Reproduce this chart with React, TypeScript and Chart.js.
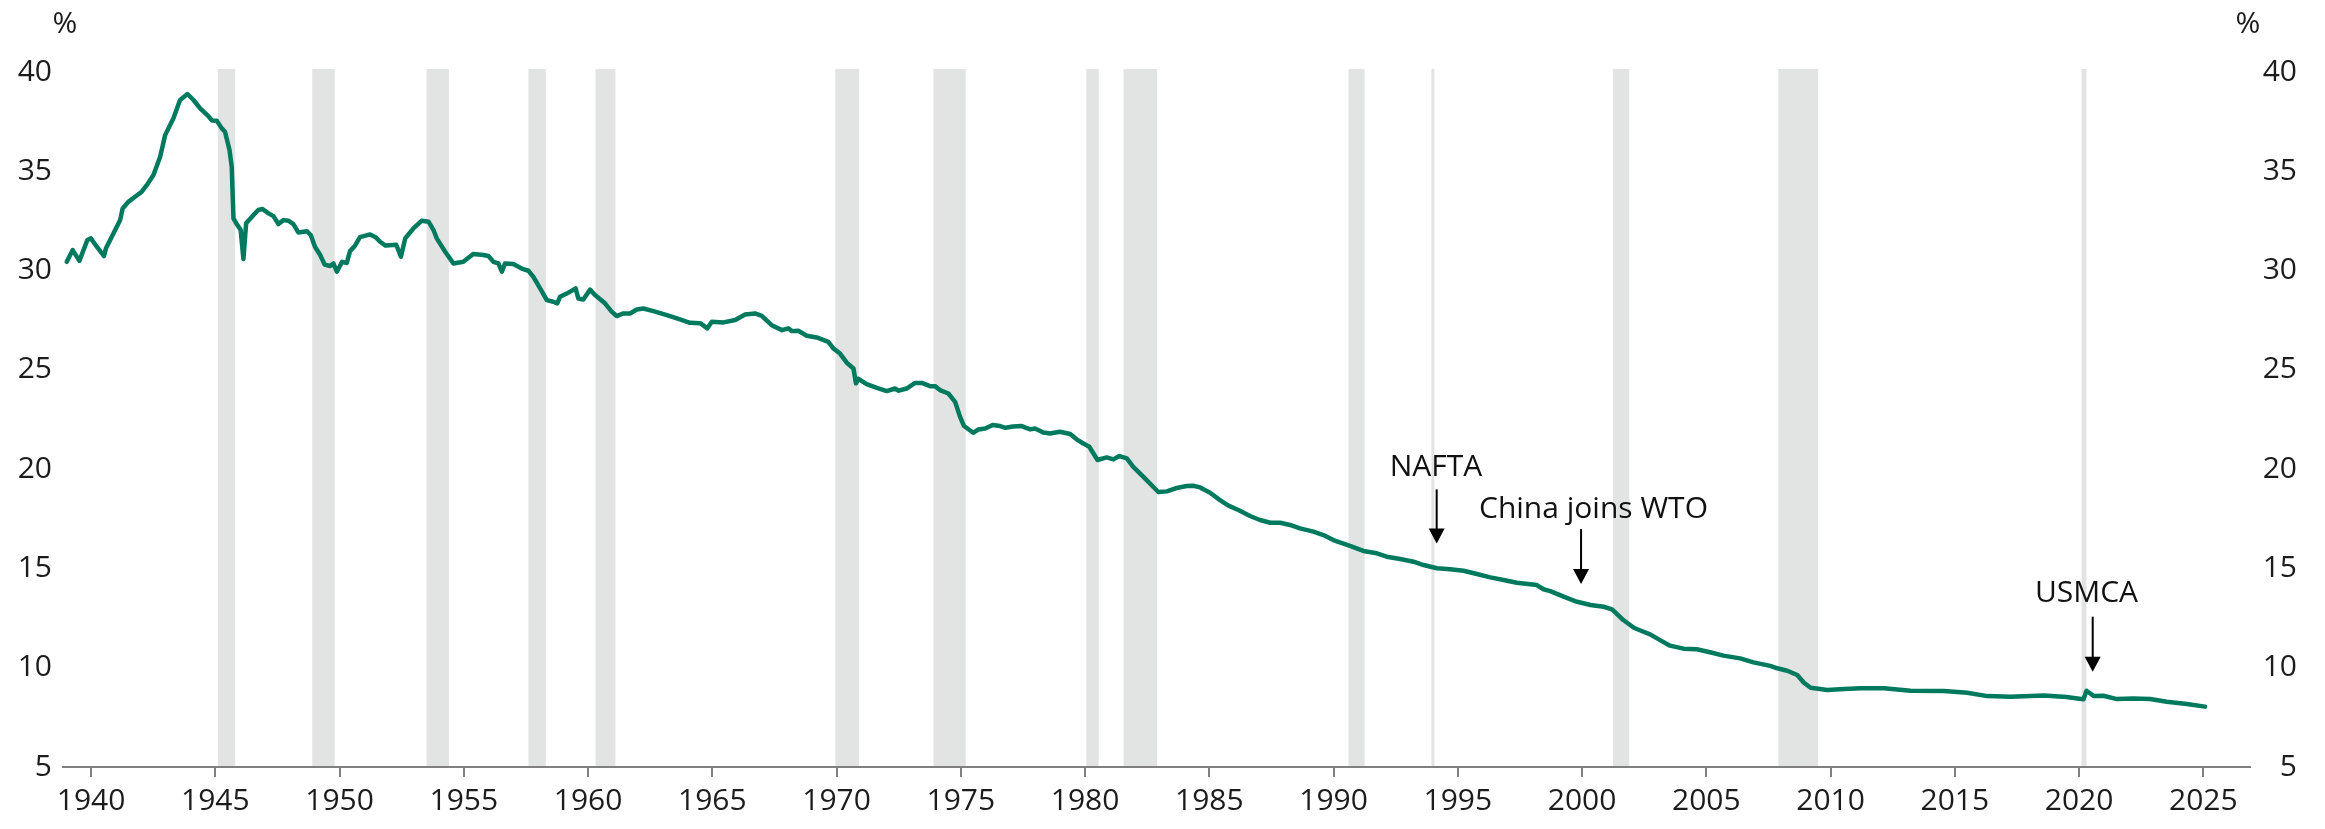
import React, { useEffect, useRef } from "react";
import { Chart, registerables } from "chart.js";

Chart.register(...registerables);

// Manufacturing share of nonfarm employment (%)
const years = [
  1939.02, 1939.26, 1939.53, 1939.85, 1939.99, 1940.23, 1940.52, 1940.6, 1940.97, 1941.17,
  1941.27, 1941.5, 1941.77, 1942.04, 1942.24, 1942.51, 1942.78, 1942.98, 1943.31, 1943.58,
  1943.88, 1944.12, 1944.39, 1944.72, 1944.86, 1945.06, 1945.26, 1945.39, 1945.57, 1945.66,
  1945.73, 1945.86, 1946.02, 1946.13, 1946.24, 1946.53, 1946.73, 1946.9, 1947.14, 1947.34,
  1947.54, 1947.74, 1947.94, 1948.14, 1948.34, 1948.68, 1948.84, 1949.01, 1949.22, 1949.4,
  1949.62, 1949.75, 1949.89, 1950.1, 1950.29, 1950.42, 1950.62, 1950.82, 1951.23, 1951.45,
  1951.63, 1951.85, 1952.28, 1952.47, 1952.64, 1952.97, 1953.31, 1953.58, 1953.78, 1953.91,
  1954.25, 1954.58, 1954.98, 1955.38, 1955.79, 1955.99, 1956.19, 1956.39, 1956.53, 1956.66,
  1956.99, 1957.33, 1957.6, 1957.8, 1958.07, 1958.34, 1958.6, 1958.76, 1958.87, 1959.14,
  1959.5, 1959.61, 1959.81, 1960.08, 1960.28, 1960.68, 1960.95, 1961.15, 1961.42, 1961.69,
  1961.96, 1962.23, 1962.63, 1963.17, 1963.7, 1964.1, 1964.51, 1964.8, 1964.98, 1965.45,
  1965.92, 1966.32, 1966.72, 1966.99, 1967.39, 1967.8, 1968.06, 1968.2, 1968.46, 1968.8,
  1969.2, 1969.54, 1969.67, 1969.87, 1970.14, 1970.41, 1970.68, 1970.78, 1970.88, 1971.21,
  1971.62, 1972.02, 1972.35, 1972.5, 1972.82, 1973.16, 1973.43, 1973.76, 1973.96, 1974.16,
  1974.5, 1974.77, 1974.97, 1975.13, 1975.5, 1975.71, 1975.98, 1976.28, 1976.58, 1976.8,
  1977.1, 1977.45, 1977.79, 1977.99, 1978.32, 1978.59, 1978.99, 1979.4, 1979.66, 1979.93,
  1980.17, 1980.5, 1980.87, 1981.14, 1981.38, 1981.68, 1981.94, 1982.35, 1982.75, 1982.95,
  1983.29, 1983.69, 1984.09, 1984.36, 1984.63, 1985.03, 1985.43, 1985.77, 1986.17, 1986.64,
  1987.04, 1987.45, 1987.85, 1988.25, 1988.65, 1989.19, 1989.59, 1989.99, 1990.66, 1991.2,
  1991.74, 1992.14, 1992.68, 1993.22, 1993.62, 1994.16, 1994.69, 1995.23, 1995.77, 1996.31,
  1996.84, 1997.38, 1998.18, 1998.45, 1998.72, 1999.26, 1999.8, 2000.34, 2000.87, 2001.21,
  2001.66, 2002.1, 2002.4, 2002.74, 2003.14, 2003.54, 2004.08, 2004.62, 2005.15, 2005.69,
  2006.36, 2006.9, 2007.57, 2007.86, 2008.26, 2008.66, 2008.93, 2009.2, 2009.87, 2010.54,
  2011.21, 2012.15, 2013.22, 2014.56, 2015.5, 2016.31, 2017.25, 2018.59, 2019.5, 2019.93,
  2020.18, 2020.3, 2020.6, 2020.98, 2021.52, 2022.19, 2022.86, 2023.53, 2024.34, 2025.07,
];

const shares = [
  30.44, 31.03, 30.49, 31.54, 31.62, 31.2, 30.73, 31.12, 32.04, 32.54,
  33.13, 33.46, 33.72, 33.97, 34.3, 34.81, 35.73, 36.82, 37.66, 38.59,
  38.89, 38.59, 38.17, 37.78, 37.56, 37.54, 37.16, 36.99, 36.07, 35.23,
  32.63, 32.34, 32.04, 30.58, 32.38, 32.79, 33.05, 33.1, 32.88, 32.74,
  32.34, 32.54, 32.51, 32.34, 31.92, 31.98, 31.79, 31.2, 30.78, 30.3,
  30.23, 30.36, 29.94, 30.44, 30.38, 30.98, 31.25, 31.68, 31.82, 31.68,
  31.45, 31.26, 31.3, 30.7, 31.62, 32.12, 32.51, 32.46, 32.04, 31.62,
  30.95, 30.36, 30.44, 30.83, 30.78, 30.73, 30.44, 30.36, 29.94, 30.36,
  30.33, 30.1, 29.99, 29.68, 29.1, 28.51, 28.43, 28.35, 28.68, 28.84,
  29.1, 28.59, 28.54, 29.04, 28.77, 28.35, 27.93, 27.71, 27.84, 27.84,
  28.04, 28.09, 27.96, 27.76, 27.54, 27.37, 27.35, 27.09, 27.42, 27.39,
  27.51, 27.79, 27.84, 27.72, 27.25, 27.0, 27.09, 26.95, 26.97, 26.72,
  26.63, 26.47, 26.41, 26.08, 25.82, 25.36, 25.07, 24.32, 24.55, 24.28,
  24.09, 23.93, 24.06, 23.95, 24.06, 24.34, 24.34, 24.18, 24.18, 23.98,
  23.81, 23.39, 22.63, 22.17, 21.83, 22.0, 22.05, 22.22, 22.17, 22.08,
  22.15, 22.17, 22.0, 22.05, 21.84, 21.79, 21.88, 21.77, 21.5, 21.29,
  21.13, 20.46, 20.59, 20.49, 20.66, 20.54, 20.11, 19.61, 19.1, 18.85,
  18.88, 19.05, 19.15, 19.16, 19.08, 18.81, 18.44, 18.16, 17.94, 17.64,
  17.44, 17.3, 17.3, 17.19, 17.02, 16.85, 16.68, 16.43, 16.13, 15.88,
  15.76, 15.59, 15.47, 15.34, 15.17, 15.01, 14.96, 14.88, 14.72, 14.55,
  14.42, 14.28, 14.16, 13.95, 13.86, 13.58, 13.32, 13.16, 13.07, 12.94,
  12.4, 12.0, 11.85, 11.68, 11.39, 11.11, 10.96, 10.93, 10.78, 10.61,
  10.47, 10.27, 10.09, 9.97, 9.85, 9.63, 9.24, 8.99, 8.88, 8.93,
  8.96, 8.96, 8.84, 8.83, 8.74, 8.57, 8.54, 8.6, 8.52, 8.45,
  8.41, 8.84, 8.57, 8.59, 8.42, 8.45, 8.42, 8.29, 8.17, 8.04,
];

const xTickYears = [1940, 1945, 1950, 1955, 1960, 1965, 1970, 1975, 1980, 1985, 1990, 1995, 2000, 2005, 2010, 2015, 2020, 2025];
const yTickValues = [5, 10, 15, 20, 25, 30, 35, 40];

// Recession periods (shaded)
const recessionStarts = [1945.1, 1948.9, 1953.5, 1957.6, 1960.3, 1969.95, 1973.9, 1980.05, 1981.55, 1990.6, 2001.25, 2007.9, 2020.1];
const recessionEnds = [1945.8, 1949.8, 1954.4, 1958.3, 1961.1, 1970.9, 1975.2, 1980.55, 1982.9, 1991.25, 2001.9, 2009.5, 2020.3];

// Thin marker line (NAFTA)
const markerLineYears = [1994.0];

// Annotations
const annotationLabels = ["NAFTA", "China joins WTO", "USMCA"];
const annotationTextYears = [1994.12, 2000.46, 2020.3];
const annotationTextValues = [19.65, 17.52, 13.32];
const arrowYears = [1994.15, 1999.96, 2020.55];
const arrowTopValues = [18.98, 16.98, 12.57];
const arrowTipValues = [16.26, 14.21, 9.8];

const FONT = "'Open Sans', 'Noto Sans', sans-serif";
const TEXT_COLOR = "#1c1c1c";
const AXIS_COLOR = "#808080";
const BAND_COLOR = "#e2e4e3";
const LINE_COLOR = "#007a5e";

const decorPlugin = {
  id: "decor",
  beforeDraw(chart: any) {
    const { ctx, chartArea, scales } = chart;
    const x = scales.x;
    ctx.save();
    ctx.fillStyle = "#ffffff";
    ctx.fillRect(0, 0, chart.width, chart.height);
    ctx.fillStyle = BAND_COLOR;
    for (let i = 0; i < recessionStarts.length; i++) {
      const x0 = x.getPixelForValue(recessionStarts[i]);
      const x1 = x.getPixelForValue(recessionEnds[i]);
      ctx.fillRect(x0, chartArea.top, x1 - x0, chartArea.bottom - chartArea.top);
    }
    ctx.strokeStyle = BAND_COLOR;
    ctx.lineWidth = 3;
    for (const yr of markerLineYears) {
      const px = x.getPixelForValue(yr);
      ctx.beginPath();
      ctx.moveTo(px, chartArea.top);
      ctx.lineTo(px, chartArea.bottom);
      ctx.stroke();
    }
    ctx.restore();
  },
  afterDraw(chart: any) {
    const { ctx, chartArea, scales } = chart;
    const x = scales.x;
    const y = scales.y;
    ctx.save();
    ctx.font = `30px ${FONT}`;
    ctx.fillStyle = TEXT_COLOR;
    ctx.textBaseline = "alphabetic";
    ctx.textAlign = "center";
    ctx.fillText("%", chartArea.left + 2, chartArea.top - 36);
    ctx.fillText("%", chartArea.right - 2, chartArea.top - 36);

    for (let i = 0; i < annotationLabels.length; i++) {
      ctx.fillStyle = "#111111";
      ctx.textAlign = "center";
      ctx.fillText(
        annotationLabels[i],
        x.getPixelForValue(annotationTextYears[i]),
        y.getPixelForValue(annotationTextValues[i])
      );
      const ax = x.getPixelForValue(arrowYears[i]);
      const top = y.getPixelForValue(arrowTopValues[i]);
      const tip = y.getPixelForValue(arrowTipValues[i]);
      const headH = 15;
      const headW = 16;
      ctx.strokeStyle = "#000000";
      ctx.lineWidth = 2;
      ctx.beginPath();
      ctx.moveTo(ax, top);
      ctx.lineTo(ax, tip - headH + 1);
      ctx.stroke();
      ctx.fillStyle = "#000000";
      ctx.beginPath();
      ctx.moveTo(ax - headW / 2, tip - headH);
      ctx.lineTo(ax + headW / 2, tip - headH);
      ctx.lineTo(ax, tip);
      ctx.closePath();
      ctx.fill();
    }
    ctx.restore();
  },
};

export default function App() {
  const canvasRef = useRef<HTMLCanvasElement | null>(null);

  useEffect(() => {
    if (!canvasRef.current) return;
    const points = years.map((yr, i) => ({ x: yr, y: shares[i] }));
    const chart = new Chart(canvasRef.current, {
      type: "line",
      data: {
        datasets: [
          {
            data: points,
            borderColor: LINE_COLOR,
            borderWidth: 4.5,
            pointRadius: 0,
            tension: 0,
            borderJoinStyle: "round",
            borderCapStyle: "round",
            fill: false,
            yAxisID: "y",
          },
        ],
      },
      options: {
        responsive: false,
        devicePixelRatio: 1,
        animation: false,
        events: [],
        layout: { padding: { top: 69, right: 28, left: 0, bottom: 0 } },
        plugins: {
          legend: { display: false },
          tooltip: { enabled: false },
          title: { display: false },
        },
        scales: {
          x: {
            type: "linear",
            min: 1938.87,
            max: 2026.88,
            afterBuildTicks: (scale: any) => {
              scale.ticks = xTickYears.map((v) => ({ value: v }));
            },
            afterFit: (scale: any) => {
              scale.height = 62;
            },
            border: { display: true, color: AXIS_COLOR, width: 2 },
            grid: {
              display: true,
              drawOnChartArea: false,
              drawTicks: true,
              tickLength: 10,
              color: AXIS_COLOR,
              lineWidth: 2,
            },
            ticks: {
              autoSkip: false,
              maxRotation: 0,
              padding: 6,
              color: TEXT_COLOR,
              font: { family: FONT, size: 30 },
              callback: (v: any) => String(v),
            },
          },
          y: {
            type: "linear",
            position: "left",
            min: 5,
            max: 40.15,
            afterBuildTicks: (scale: any) => {
              scale.ticks = yTickValues.map((v) => ({ value: v }));
            },
            afterFit: (scale: any) => {
              scale.width = 63;
            },
            border: { display: false },
            grid: { display: false, drawTicks: false },
            ticks: {
              padding: 11,
              color: TEXT_COLOR,
              font: { family: FONT, size: 30 },
              callback: (v: any) => String(v),
            },
          },
          y2: {
            type: "linear",
            position: "right",
            min: 5,
            max: 40.15,
            afterBuildTicks: (scale: any) => {
              scale.ticks = yTickValues.map((v) => ({ value: v }));
            },
            afterFit: (scale: any) => {
              scale.width = 47;
            },
            border: { display: false },
            grid: { display: false, drawTicks: false },
            ticks: {
              padding: 11,
              crossAlign: "far",
              color: TEXT_COLOR,
              font: { family: FONT, size: 30 },
              callback: (v: any) => String(v),
            },
          },
        },
      },
      plugins: [decorPlugin],
    } as any);
    return () => chart.destroy();
  }, []);

  return (
    <canvas
      ref={canvasRef}
      width={2325}
      height={829}
      style={{ position: "absolute", left: 0, top: 0, width: 2325, height: 829 }}
    />
  );
}
